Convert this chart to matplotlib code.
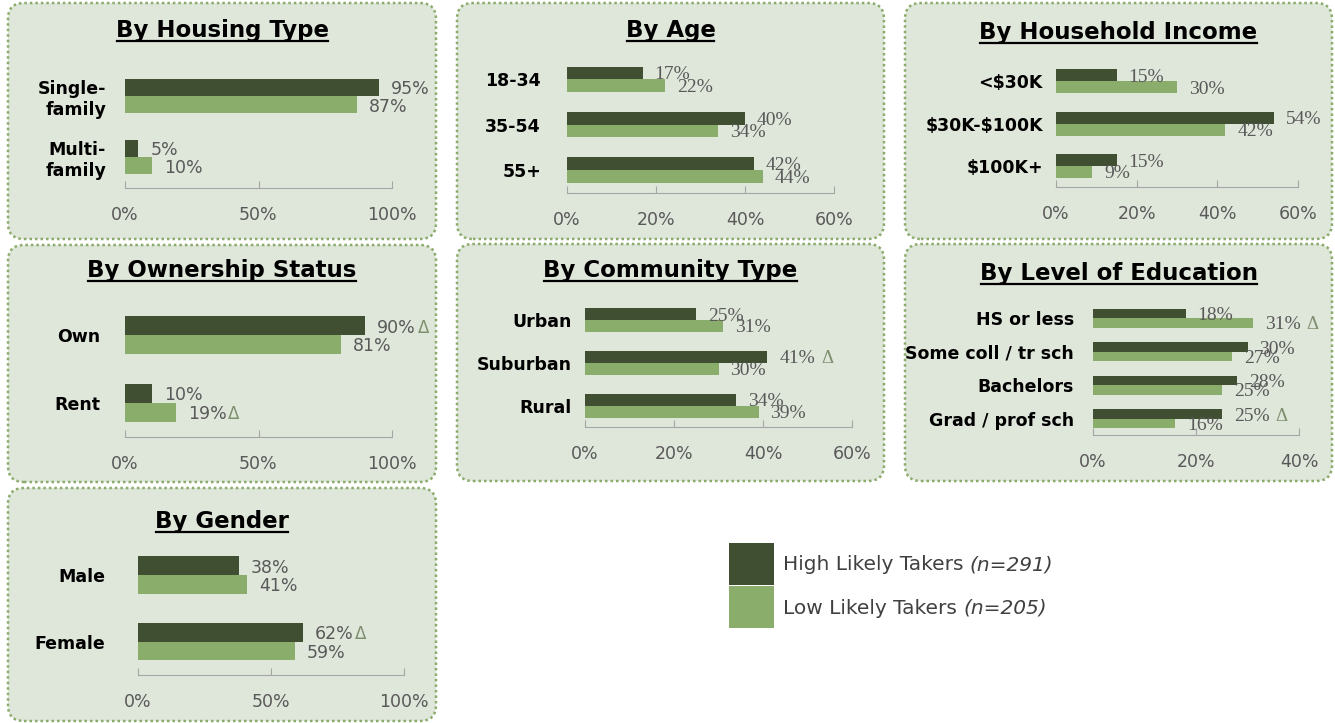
import matplotlib
matplotlib.use('Agg')
import matplotlib.pyplot as plt
import numpy as np
from matplotlib.patches import FancyBboxPatch, Rectangle
from matplotlib.lines import Line2D
from matplotlib.transforms import IdentityTransform

# ---- data ----
series_names = ['High Likely Takers', 'Low Likely Takers']
series_n = ['(n=291)', '(n=205)']

housing_cats = ['Single-\nfamily', 'Multi-\nfamily']
housing_high = [95, 5]
housing_low = [87, 10]

age_cats = ['18-34', '35-54', '55+']
age_high = [17, 40, 42]
age_low = [22, 34, 44]

income_cats = ['<$30K', '$30K-$100K', '$100K+']
income_high = [15, 54, 15]
income_low = [30, 42, 9]

own_cats = ['Own', 'Rent']
own_high = [90, 10]
own_low = [81, 19]
own_sig_high = [True, False]
own_sig_low = [False, True]

comm_cats = ['Urban', 'Suburban', 'Rural']
comm_high = [25, 41, 34]
comm_low = [31, 30, 39]
comm_sig_high = [False, True, False]

edu_cats = ['HS or less', 'Some coll / tr sch', 'Bachelors', 'Grad / prof sch']
edu_high = [18, 30, 28, 25]
edu_low = [31, 27, 25, 16]
edu_sig_high = [False, False, False, True]
edu_sig_low = [True, False, False, False]

gender_cats = ['Male', 'Female']
gender_high = [38, 62]
gender_low = [41, 59]
gender_sig_high = [False, True]

# ---- style ----
W, H = 1335, 723
DARK = '#404f31'
LIGHT = '#8aad6c'
PANEL = '#dfe6da'
EDGE = '#8aab6b'
GREY = '#595959'
DELTA = '#7d8f6d'

fig = plt.figure(figsize=(W / 100, H / 100), dpi=100)
fig.patch.set_facecolor('white')
titles = []


def panel_box(x0, y0, x1, y1):
    p = FancyBboxPatch((x0, H - y1), x1 - x0, y1 - y0,
                       boxstyle='round,pad=0,rounding_size=16',
                       transform=IdentityTransform(), fc=PANEL, ec=EDGE,
                       lw=1.8, ls=(0, (1, 1.2)), zorder=-5)
    fig.add_artist(p)


def add_panel(title, cats, high, low, xmax, step, box, x0, x1, c0, c1,
              title_y, cat_pad, serif=False, sig_high=None, sig_low=None):
    panel_box(*box)
    t = fig.text((box[0] + box[2]) / 2 / W, 1 - title_y / H, title,
                 ha='center', va='baseline', fontsize=16.5, weight='bold')
    titles.append(t)

    n = len(cats)
    s = (c1 - c0) / (n - 1)
    top, bottom = c0 - s / 2, c1 + s / 2
    ax = fig.add_axes([x0 / W, 1 - bottom / H, (x1 - x0) / W, (bottom - top) / H])
    ax.patch.set_visible(False)
    y = np.arange(n)
    h = 0.28
    ax.barh(y - h / 2, high, height=h, color=DARK)
    ax.barh(y + h / 2, low, height=h, color=LIGHT)
    ax.set_xlim(0, xmax)
    ax.set_ylim(n - 0.5, -0.5)

    for sp in ['top', 'right', 'left']:
        ax.spines[sp].set_visible(False)
    ax.spines['bottom'].set_color('#a6a6a6')
    ax.set_xticks(np.arange(0, xmax + 1, step))
    ax.xaxis.set_major_formatter(lambda v, p: f'{v:.0f}%')
    ax.tick_params(axis='x', direction='in', length=5, color='#a6a6a6',
                   labelsize=12.5, labelcolor=GREY, pad=13)
    ax.set_yticks(y)
    ax.set_yticklabels([c.replace('$', r'\$') for c in cats], fontsize=12.5, weight='bold')
    ax.tick_params(axis='y', length=0, pad=cat_pad * 0.72)

    if serif:
        fam, fs, gap = 'Liberation Serif', 14, 4
    else:
        fam, fs, gap = 'DejaVu Sans', 12.5, 1
    sig_high = sig_high or [False] * n
    sig_low = sig_low or [False] * n
    for vals, sigs, off in [(high, sig_high, -h / 2), (low, sig_low, h / 2)]:
        for i, v in enumerate(vals):
            lab = ax.annotate(f'{v}%', xy=(v, i + off), xytext=(12 * 0.72, -2 * 0.72),
                              textcoords='offset points', va='center', ha='left',
                              fontsize=fs, color=GREY, family=fam,
                              annotation_clip=False)
            if sigs[i]:
                ax.annotate('Δ', xy=(1, 0.5), xycoords=lab, xytext=(gap, 0),
                            textcoords='offset points', va='center', ha='left',
                            fontsize=fs - 0.5, color=DELTA, family=fam)
    return ax


add_panel('By Housing Type', housing_cats, housing_high, housing_low, 100, 50,
          (8, 3, 436, 239), 125, 392, 96, 157, 37, 19)
add_panel('By Age', age_cats, age_high, age_low, 60, 20,
          (457, 3, 884, 239), 567, 834, 79.3, 170, 37, 26, serif=True)
add_panel('By Household Income', income_cats, income_high, income_low, 60, 20,
          (905, 3, 1332, 239), 1056, 1298, 81.3, 166, 39, 13, serif=True)
add_panel('By Ownership Status', own_cats, own_high, own_low, 100, 50,
          (8, 245, 436, 482), 125, 392, 335, 402.7, 277, 25,
          sig_high=own_sig_high, sig_low=own_sig_low)
add_panel('By Community Type', comm_cats, comm_high, comm_low, 60, 20,
          (457, 244, 884, 481), 585, 852, 320, 405.7, 277, 13, serif=True,
          sig_high=comm_sig_high)
add_panel('By Level of Education', edu_cats, edu_high, edu_low, 40, 20,
          (905, 244, 1332, 481), 1093, 1299, 318.3, 418.7, 280, 19, serif=True,
          sig_high=edu_sig_high, sig_low=edu_sig_low)
add_panel('By Gender', gender_cats, gender_high, gender_low, 100, 50,
          (8, 488, 436, 721), 138, 404, 575, 641.7, 528, 33,
          sig_high=gender_sig_high)

# legend
for i, (name, n_txt, col) in enumerate(zip(series_names, series_n, [DARK, LIGHT])):
    ytop = 543 + i * 43
    fig.add_artist(Rectangle((729, H - ytop - 42), 45, 42, transform=IdentityTransform(),
                             fc=col, ec='none'))
    tx = fig.text(783 / W, 1 - (ytop + 22) / H, name + ' ', fontsize=14.5,
                  color='#404040', va='center', ha='left')
    fig.add_artist(plt.Annotation(n_txt, xy=(1, 0.5), xycoords=tx, va='center', ha='left',
                                  fontsize=14.5, color='#404040', style='italic'))

# underline titles
fig.canvas.draw()
r = fig.canvas.get_renderer()
for t in titles:
    bb = t.get_window_extent(r)
    fig.add_artist(Line2D([bb.x0 + 1, bb.x1 - 1], [bb.y0 + 1, bb.y0 + 1],
                          transform=IdentityTransform(), color='black', lw=1.6))

fig.savefig('out.png', dpi=100, facecolor='white')
